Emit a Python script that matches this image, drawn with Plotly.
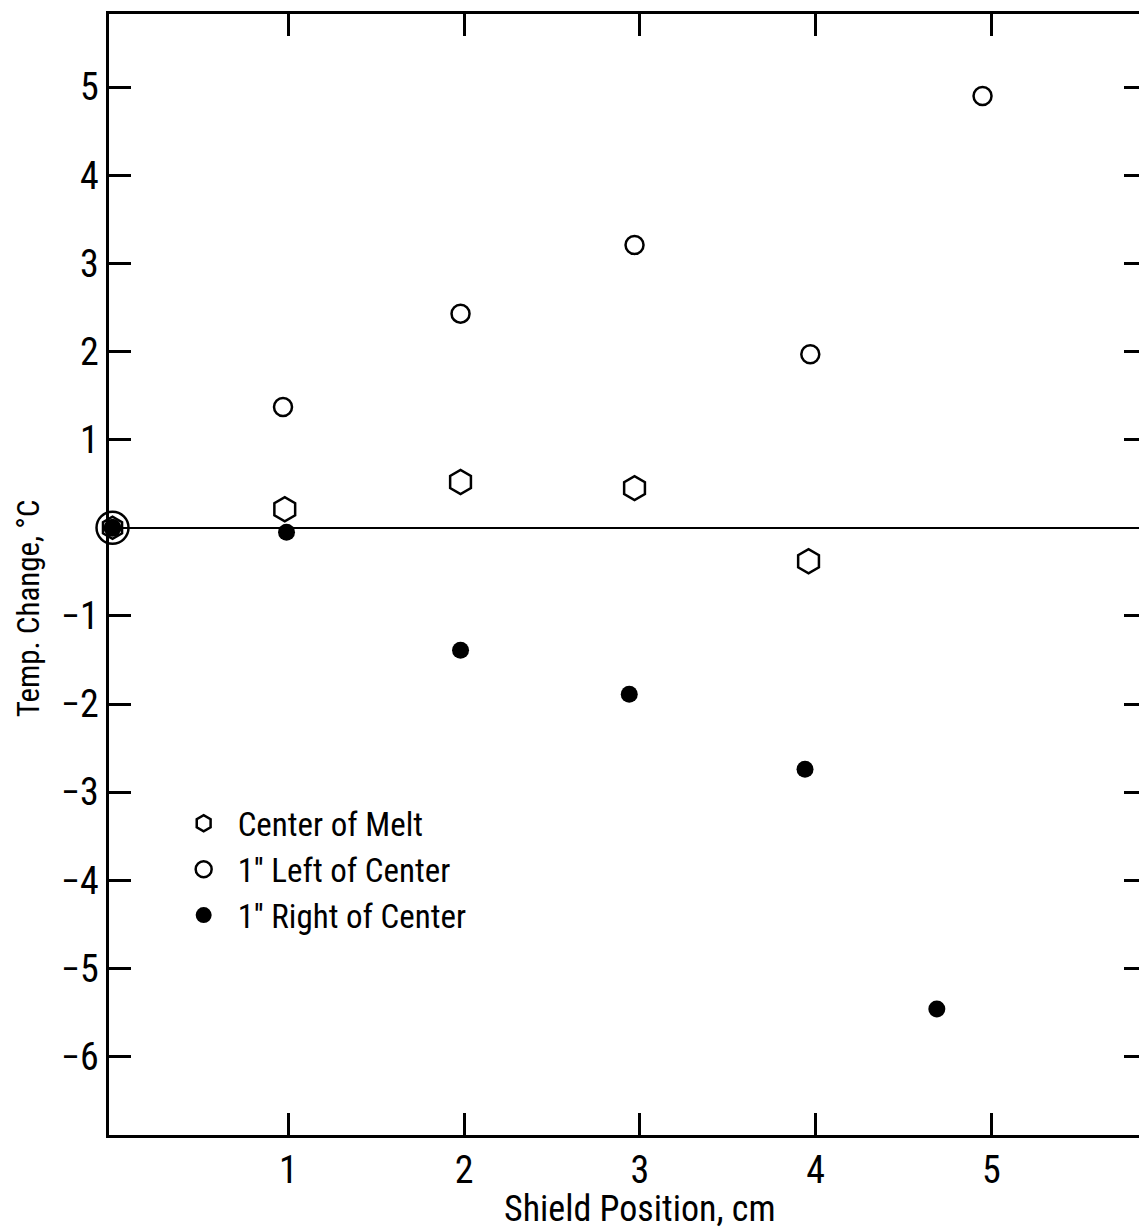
import plotly.graph_objects as go

# Data
center_x = [0.0, 0.98, 1.98, 2.97, 3.96]
center_y = [0.0, 0.21, 0.52, 0.45, -0.38]

left_x = [0.0, 0.97, 1.98, 2.97, 3.97, 4.95]
left_y = [0.0, 1.37, 2.43, 3.21, 1.97, 4.90]

right_x = [0.0, 0.99, 1.98, 2.94, 3.94, 4.69]
right_y = [0.0, -0.05, -1.39, -1.89, -2.74, -5.46]

x_ticks = [1, 2, 3, 4, 5]
y_ticks = [-6, -5, -4, -3, -2, -1, 1, 2, 3, 4, 5]

FONT = "Roboto Condensed, DejaVu Sans Condensed, sans-serif"

fig = go.Figure()
fig.add_trace(go.Scatter(
    x=center_x, y=center_y, mode="markers", name="Center of Melt",
    marker=dict(symbol="hexagon-open", size=[22, 24, 24, 24, 24], color="black", opacity=1,
                line=dict(width=2.5, color="black")),
    opacity=1, cliponaxis=False,
))
fig.add_trace(go.Scatter(
    x=left_x, y=left_y, mode="markers", name="1'' Left of Center",
    marker=dict(symbol="circle-open", size=[32, 18, 18, 18, 18, 18], color="black", opacity=1,
                line=dict(width=2.5, color="black")),
    opacity=1, cliponaxis=False,
))
fig.add_trace(go.Scatter(
    x=right_x, y=right_y, mode="markers", name="1'' Right of Center",
    marker=dict(symbol="circle", size=[18, 17, 17, 17, 17, 17], color="black", opacity=1,
                line=dict(width=0)),
    opacity=1, cliponaxis=False,
))

axis_common = dict(
    showline=True, linecolor="black", linewidth=2.5, mirror="ticks",
    ticks="inside", tickcolor="black", tickwidth=2.5, ticklen=22,
    showgrid=False, automargin=False,
    tickfont=dict(family=FONT, size=38, color="black"),
)

fig.update_xaxes(
    range=[-0.02, 5.88], tickvals=x_ticks, ticktext=[str(v) for v in x_ticks],
    zeroline=False, ticklabelstandoff=0,
    **axis_common,
)
fig.update_yaxes(
    range=[-6.89, 5.83], tickvals=y_ticks,
    ticktext=[("\u2212" + str(-v)) if v < 0 else str(v) for v in y_ticks],
    zeroline=True, zerolinecolor="black", zerolinewidth=2.2,
    ticklabelstandoff=0,
    **axis_common,
)

fig.add_annotation(
    text="Shield Position, cm", xref="paper", yref="paper",
    x=0.512, y=-0.066, xanchor="center", yanchor="middle", showarrow=False,
    font=dict(family=FONT, size=36, color="black"),
)
fig.add_annotation(
    text="Temp. Change, \u00b0C", textangle=-90, xref="paper", yref="paper",
    x=-0.078, y=0.47, xanchor="center", yanchor="middle", showarrow=False,
    font=dict(family=FONT, size=31, color="black"),
)

fig.update_layout(
    template="none",
    width=1139, height=1224,
    margin=dict(l=101, r=1, t=6, b=97, pad=0),
    paper_bgcolor="white", plot_bgcolor="white",
    font=dict(family=FONT, color="black"),
    showlegend=True,
    legend=dict(
        x=0.0585, y=0.303, xanchor="left", yanchor="top",
        bgcolor="rgba(0,0,0,0)", borderwidth=0,
        font=dict(family=FONT, size=33, color="black"),
        itemwidth=58, tracegroupgap=0,
    ),
)

fig.write_html("out.html")
